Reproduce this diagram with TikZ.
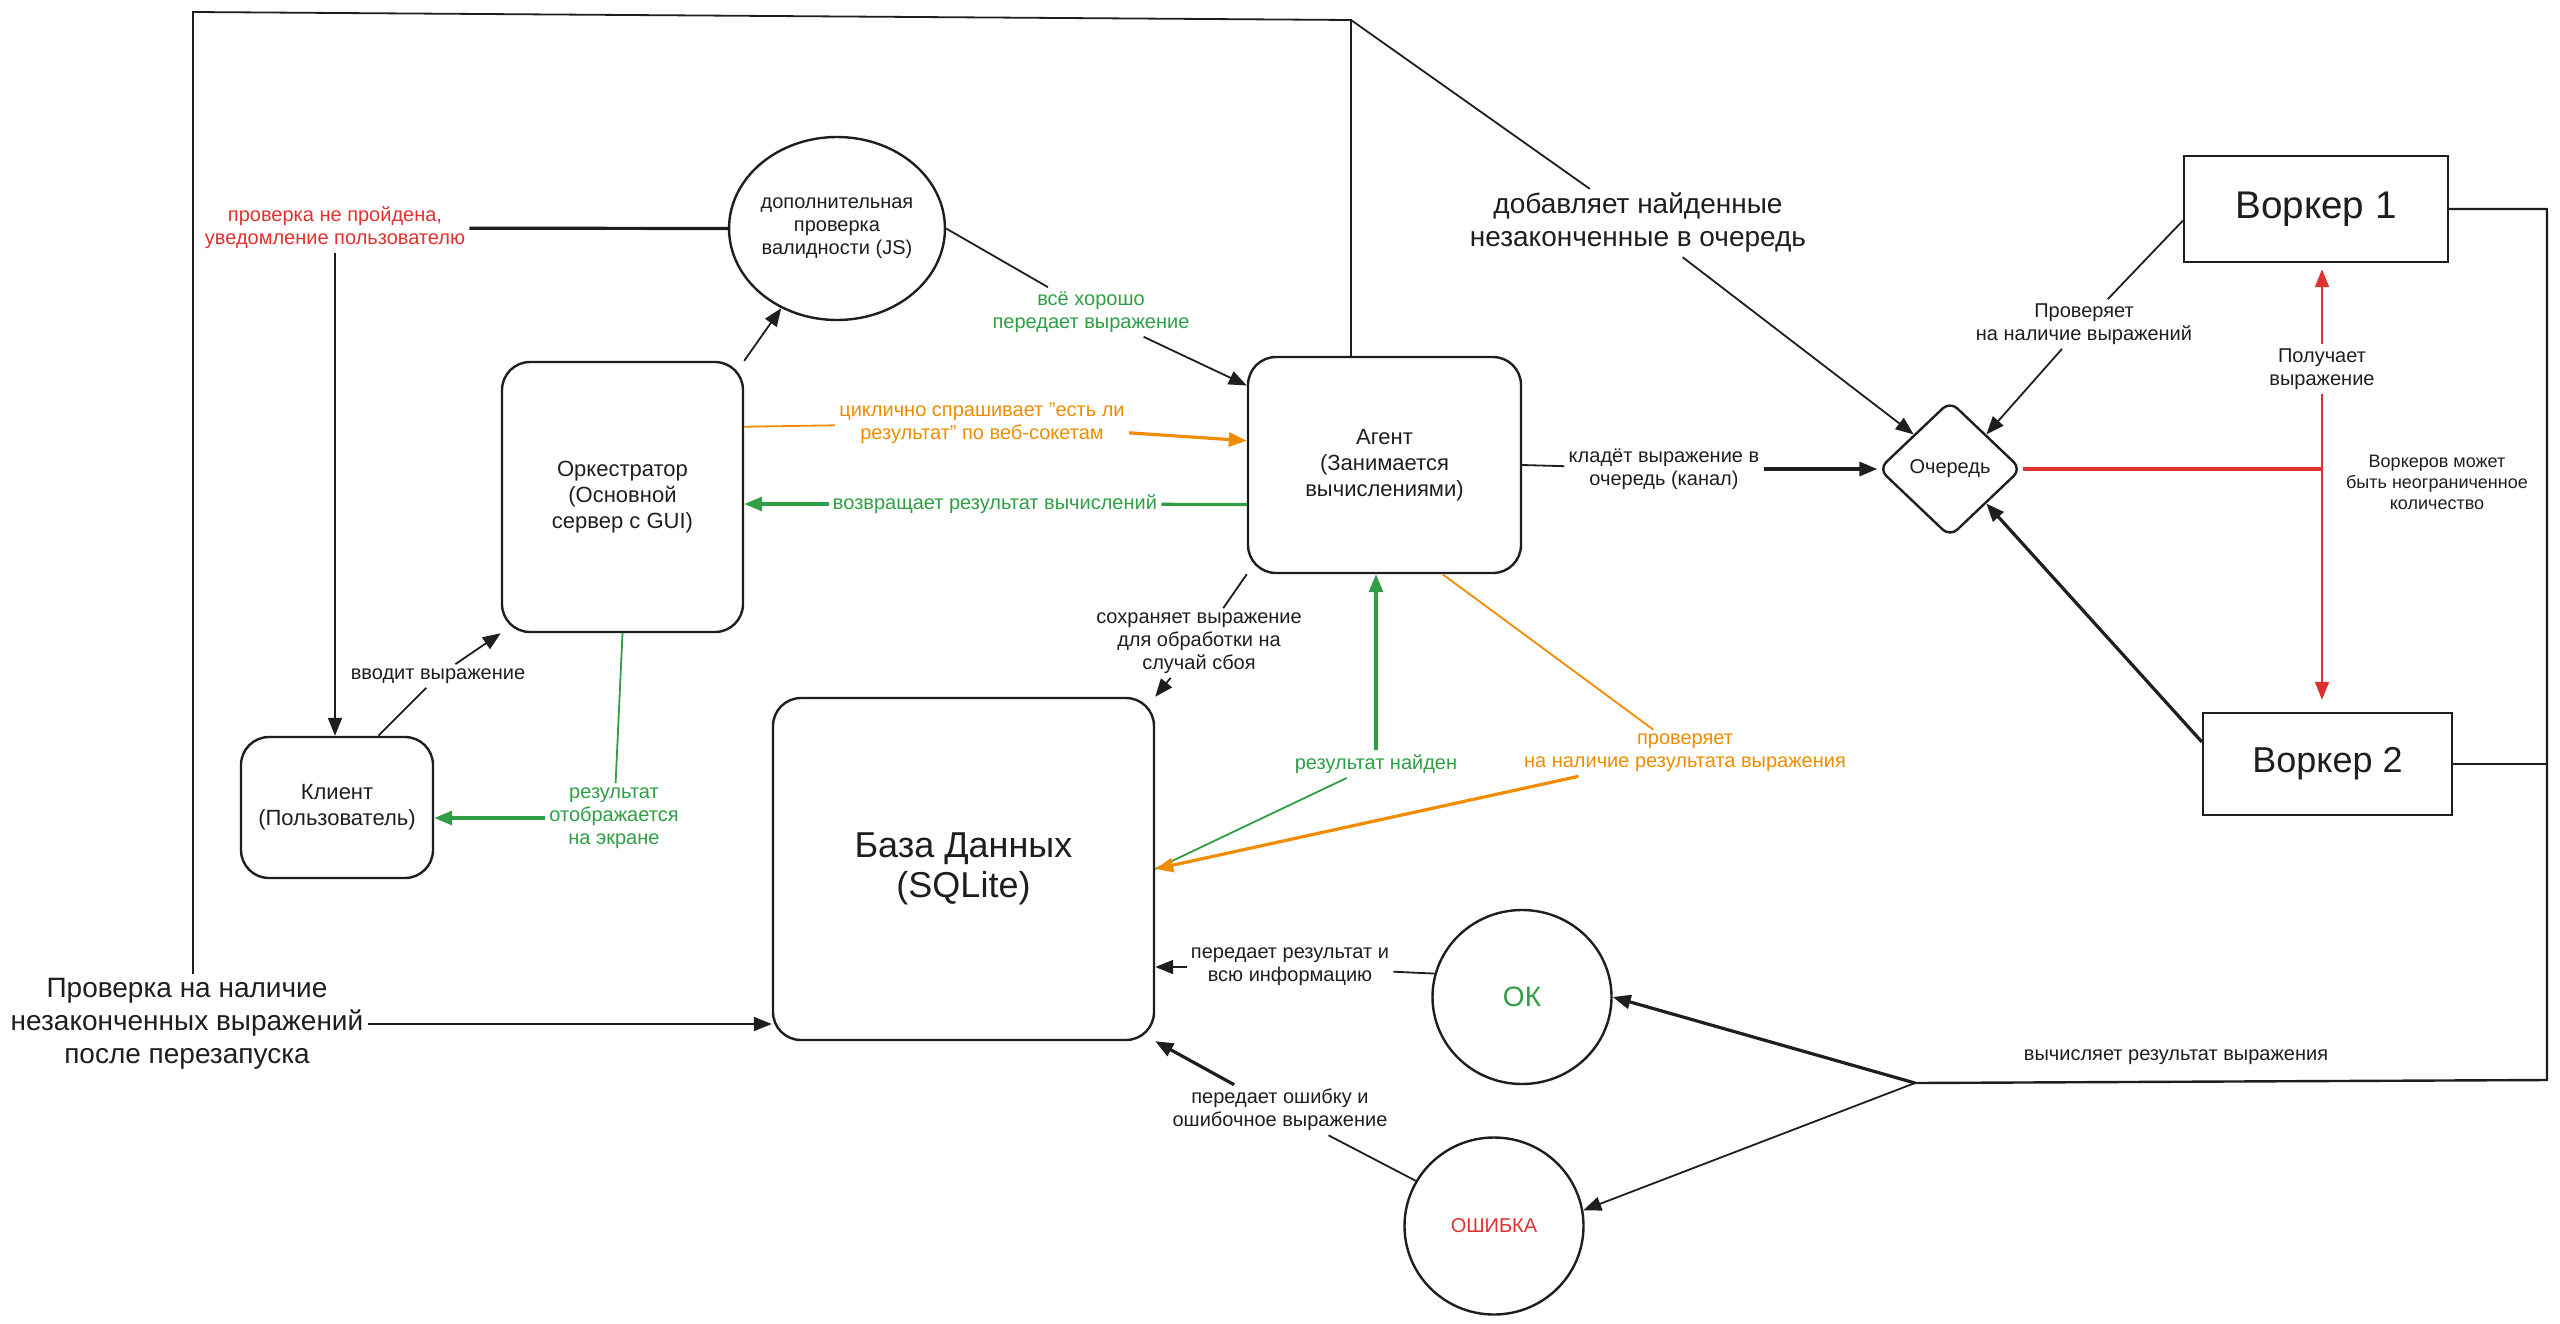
\documentclass[tikz,border=0pt]{standalone}
\usepackage{fontspec}
\setmainfont{Liberation Sans}
\usepackage{tikz}
\usetikzlibrary{arrows.meta, shapes.geometric}

\definecolor{ink}{HTML}{1E1E1E}
\definecolor{okgreen}{HTML}{2F9E44}
\definecolor{errred}{HTML}{E03131}
\definecolor{warnorange}{HTML}{F08C00}

\begin{document}
\begin{tikzpicture}[x=0.5pt,y=-0.5pt]
        \tikzset{box/.style = {shape=rectangle,draw=ink,line width=1.2pt,rounded corners=14pt,align=center,text=ink,font=\fontsize{11}{13}\selectfont}}
        \tikzset{worker/.style = {shape=rectangle,draw=ink,line width=1.2pt,text=ink,font=\fontsize{18}{20}\selectfont}}
        \tikzset{roundnode/.style = {shape=ellipse,draw=ink,line width=1.2pt,inner sep=0pt,align=center,text=ink,font=\fontsize{10}{11.5}\selectfont}}
        \tikzset{lbl/.style = {align=center,inner sep=2pt,text=ink,font=\fontsize{10}{11.5}\selectfont}}
        \tikzset{biglbl/.style = {lbl,font=\fontsize{14}{16.5}\selectfont}}
        \tikzset{line/.style = {draw=ink,line width=0.9pt}}
        \tikzset{edge/.style = {line,-{Triangle[length=9pt,width=7pt]}}}
        \tikzset{fat/.style = {line width=1.6pt}}
        \useasboundingbox (0,0) rectangle (2560,1323);

        % blocks
        \node[box,minimum width=120.5pt,minimum height=135pt] (orch) at (622.5,497) {Оркестратор\\(Основной\\сервер с GUI)};
        \node[box,minimum width=136.5pt,minimum height=108pt] (agent) at (1384.5,465) {Агент\\(Занимается\\вычислениями)};
        \node[box,minimum width=96pt,minimum height=70.5pt] (client) at (337,807.5) {Клиент\\(Пользователь)};
        \node[box,minimum width=190.5pt,minimum height=171pt,font=\fontsize{18}{20}\selectfont] (db) at (963.5,869) {База Данных\\(SQLite)};
        \node[roundnode,minimum width=95pt,minimum height=91.5pt] (js) at (837,228.5) {дополнительная\\проверка\\валидности (JS)};
        \node[shape=diamond,draw=ink,line width=1.2pt,rounded corners=5pt,inner sep=0pt,text=ink,font=\fontsize{10}{11.5}\selectfont,minimum width=71.5pt,minimum height=68pt] (queue) at (1950,469) {Очередь};
        \node[worker,minimum width=132pt,minimum height=53pt,font=\fontsize{19.3}{21}\selectfont] (w1) at (2316,209) {Воркер 1};
        \node[worker,minimum width=124.5pt,minimum height=51pt] (w2) at (2327.5,764) {Воркер 2};
        \node[roundnode,minimum width=89.5pt,minimum height=87pt,text=okgreen,font=\fontsize{14}{16}\selectfont] (ok) at (1522,997) {ОК};
        \node[roundnode,minimum width=89.5pt,minimum height=88.5pt,text=errred] (err) at (1494,1226) {ОШИБКА};

        % labels
        \node[lbl,text=errred] (fail) at (335,228) {проверка не пройдена,\\уведомление пользователю};
        \node[lbl,text=okgreen] (good) at (1091,312) {всё хорошо\\передает выражение};
        \node[lbl,text=warnorange] (ask) at (982,423) {циклично спрашивает "есть ли\\результат" по веб-сокетам};
        \node[lbl,text=okgreen] (back) at (995,504) {возвращает результат вычислений};
        \node[lbl] (enter) at (438,676) {вводит выражение};
        \node[lbl,text=okgreen] (show) at (614,818) {результат\\отображается\\на экране};
        \node[lbl] (save) at (1199,643) {сохраняет выражение\\для обработки на\\случай сбоя};
        \node[lbl,text=okgreen] (found) at (1376,764) {результат найден};
        \node[lbl,text=warnorange] (check) at (1685,753) {проверяет\\на наличие результата выражения};
        \node[lbl] (passok) at (1290,967) {передает результат и\\всю информацию};
        \node[lbl] (passerr) at (1280,1110) {передает ошибку и\\ошибочное выражение};
        \node[lbl] (calc) at (2176,1057) {вычисляет результат выражения};
        \node[biglbl] (restart) at (187,1024) {Проверка на наличие\\незаконченных выражений\\после перезапуска};
        \node[biglbl] (addq) at (1638,223) {добавляет найденные\\незаконченные в очередь};
        \node[lbl] (putq) at (1664,469) {кладёт выражение в\\очередь (канал)};
        \node[lbl] (checkq) at (2084,324) {Проверяет\\на наличие выражений};
        \node[lbl] (get) at (2322,369) {Получает\\выражение};
        \node[lbl,font=\fontsize{9}{10.5}\selectfont] (many) at (2437,482) {Воркеров может\\быть неограниченное\\количество};

        \coordinate (tl) at (193,12);
        \coordinate (tm) at (1351,20);
        \coordinate (rb) at (2547,1080);
        \coordinate (fork) at (1915,1083);
        \coordinate (rj) at (2322,469);

        % restart loop
        \draw[line] (restart.north -| tl) -- (tl) -- (tm) -- (tm |- agent.north);
        \draw[line] (tm) to (addq);
        \draw[edge] (addq) to (queue.north west);
        \draw[edge] (restart.east) to (restart.east -| db.west);

        % workers
        \draw[line,line width=1.2pt] (w1.east) -| (rb) -- (fork);
        \draw[line,line width=1.2pt] (w2.east) to (w2.east -| rb);
        \draw[edge,fat] (fork) to (ok.east);
        \draw[edge] (fork) to (err.10);
        \draw[line] (agent.east) to (putq);
        \draw[edge,fat] (putq) to (queue.west);
        \draw[line] (w1.185) to (checkq);
        \draw[edge] (checkq) to (queue.north east);
        \draw[edge,fat] (w2.170) to (queue.south east);
        \draw[line,draw=errred,fat] (queue.east) to (rj);
        \draw[edge,draw=errred,fill=errred,shorten >=3pt] (get) to (get |- w1.south);
        \draw[edge,draw=errred,fill=errred,shorten >=6pt] (get) to (get |- w2.north);

        % orchestrator and client
        \draw[edge] (orch.north east) to (js.235);
        \draw[line] (js.east) to (good);
        \draw[edge] (good) to (agent.150);
        \draw[line,fat] (js.west) to (fail);
        \draw[edge] (fail.south) to (fail.south |- client.north);
        \draw[line,draw=warnorange] (orch.30) to (ask);
        \draw[edge,draw=warnorange,fill=warnorange,fat] (ask) to (agent.170);
        \draw[line,draw=okgreen,fat] (agent.196) to (back);
        \draw[edge,draw=okgreen,fill=okgreen,fat] (back) to (back -| orch.east);
        \draw[line] (client.60) to (enter);
        \draw[edge] (enter) to (orch.south west);
        \draw[line,draw=okgreen] (orch.south) to (show);
        \draw[edge,draw=okgreen,fill=okgreen,fat] (show.west) to (show.west -| client.east);

        % database
        \draw[line] (agent.south west) to (save);
        \draw[edge] (save) to (db.north east);
        \draw[line,draw=okgreen] (db.east) to (found);
        \draw[edge,draw=okgreen,fill=okgreen,fat] (found) to (found |- agent.south);
        \draw[line,draw=warnorange] (agent.-62) to (check);
        \draw[edge,draw=warnorange,fill=warnorange,fat] (check) to (db.east);
        \draw[line] (ok.165) to (passok);
        \draw[edge] (passok.west) to (passok.west -| db.east);
        \draw[line] (err.150) to (passerr);
        \draw[edge,fat] (passerr) to (db.south east);
\end{tikzpicture}
\end{document}
